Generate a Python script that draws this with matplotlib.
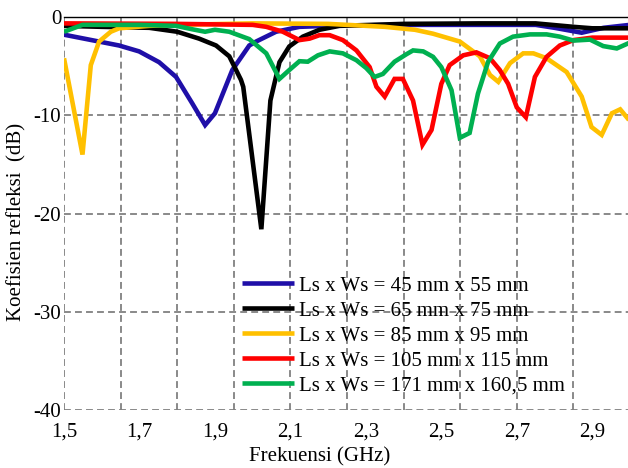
import matplotlib
matplotlib.use("Agg")
import matplotlib.pyplot as plt
from matplotlib.ticker import FixedLocator, FuncFormatter

# ---- data (frequency GHz, reflection coefficient dB) ----
labels = ["Ls x Ws = 45 mm x 55 mm", "Ls x Ws = 65 mm x 75 mm",
          "Ls x Ws = 85 mm x 95 mm", "Ls x Ws = 105 mm x 115 mm",
          "Ls x Ws = 171 mm x 160,5 mm"]
colors = ["#1F0FA8", "#000000", "#FFC000", "#FF0000", "#00B050"]

f_blue = [1.50, 1.646, 1.699, 1.752, 1.797, 1.84, 1.874, 1.90, 1.946, 1.991,
          2.009, 2.062, 2.124, 2.20, 2.40, 2.60, 2.75, 2.80, 2.872, 2.93, 3.00]
s_blue = [-1.8, -2.9, -3.5, -4.6, -6.1, -8.8, -11.0, -9.8, -5.4, -2.9,
          -2.5, -1.5, -1.0, -0.9, -0.8, -0.8, -0.8, -1.1, -1.6, -1.1, -0.8]

f_black = [1.50, 1.60, 1.726, 1.80, 1.858, 1.903, 1.938, 1.969, 1.975, 2.023,
           2.047, 2.071, 2.097, 2.133, 2.177, 2.23, 2.40, 2.60, 2.75, 2.85, 2.90, 3.00]
s_black = [-0.9, -1.0, -1.1, -1.5, -2.2, -2.9, -4.0, -6.4, -7.1, -21.6,
           -8.5, -4.6, -3.0, -2.0, -1.3, -0.9, -0.7, -0.65, -0.65, -1.0, -1.15, -1.15]

f_yellow = [1.50, 1.549, 1.571, 1.593, 1.624, 1.646, 1.726, 1.80, 2.00, 2.20,
            2.35, 2.43, 2.478, 2.549, 2.602, 2.629, 2.651, 2.682, 2.717, 2.744,
            2.779, 2.832, 2.872, 2.898, 2.925, 2.952, 2.974, 3.00]
s_yellow = [-4.2, -14.0, -4.9, -2.5, -1.5, -1.15, -0.9, -0.8, -0.65, -0.7,
            -1.0, -1.3, -1.7, -2.5, -4.0, -5.9, -6.6, -4.7, -3.7, -3.7,
            -4.2, -5.6, -8.1, -11.2, -12.0, -9.8, -9.4, -10.6]

f_red = [1.50, 1.80, 2.00, 2.036, 2.08, 2.124, 2.151, 2.177, 2.204, 2.239,
         2.275, 2.31, 2.328, 2.35, 2.376, 2.398, 2.425, 2.45, 2.474, 2.50,
         2.522, 2.558, 2.593, 2.629, 2.655, 2.677, 2.70, 2.724, 2.748, 2.779,
         2.814, 2.85, 2.90, 3.00]
s_red = [-0.65, -0.7, -0.8, -1.0, -1.5, -2.35, -2.2, -1.85, -1.85, -2.35,
         -3.4, -5.1, -7.1, -8.1, -6.3, -6.3, -8.5, -13.0, -11.5, -6.8,
         -4.9, -3.9, -3.6, -4.2, -5.4, -6.8, -9.2, -10.2, -6.1, -4.05,
         -2.9, -2.35, -2.1, -2.1]

f_green = [1.50, 1.549, 1.70, 1.797, 1.84, 1.874, 1.90, 1.938, 1.991, 2.036,
           2.071, 2.097, 2.124, 2.146, 2.173, 2.204, 2.239, 2.275, 2.301, 2.323,
           2.345, 2.376, 2.407, 2.425, 2.452, 2.478, 2.50, 2.527, 2.549, 2.575,
           2.597, 2.624, 2.655, 2.69, 2.735, 2.779, 2.814, 2.85, 2.894, 2.929,
           2.965, 3.00]
s_green = [-1.5, -0.8, -0.8, -0.9, -1.25, -1.5, -1.3, -1.5, -2.25, -3.7,
           -6.3, -5.4, -4.5, -4.55, -3.9, -3.5, -3.7, -4.4, -5.2, -6.1,
           -5.8, -4.55, -3.8, -3.4, -3.5, -4.05, -5.1, -7.45, -12.3, -11.8,
           -7.8, -4.55, -2.7, -2.0, -1.77, -1.77, -2.0, -2.4, -2.3, -2.96,
           -3.2, -2.6]

xtick_vals = [1.5, 1.7, 1.9, 2.1, 2.3, 2.5, 2.7, 2.9]
xgrid_vals = [1.5, 1.65, 1.8, 1.95, 2.1, 2.25, 2.4, 2.55, 2.7, 2.85, 3.0]
ytick_vals = [0, -10, -20, -30, -40]

# ---- figure ----
plt.rcParams['font.family'] = ['Liberation Serif', 'DejaVu Serif']
W, H = 628, 468
fig = plt.figure(figsize=(W / 100, H / 100), dpi=100)
left, right, top, bottom = 64, 630, 17, 410
ax = fig.add_axes([left / W, 1 - bottom / H, (right - left) / W, (bottom - top) / H])
ax.set_xlim(1.5, 3.0)
ax.set_ylim(-40, 0)

series = [(f_blue, s_blue), (f_black, s_black), (f_yellow, s_yellow),
          (f_red, s_red), (f_green, s_green)]
for (fx, sy), c, lab in zip(series, colors, labels):
    ax.plot(fx, sy, color=c, lw=3.3, label=lab, solid_joinstyle='miter',
            solid_capstyle='butt', zorder=3)

grid_kw = dict(color='#808080', lw=1.3, linestyle=(0, (3.8, 2.3)), zorder=1)
for gx in xgrid_vals:
    ax.axvline(gx, **grid_kw)
for gy in ytick_vals[1:]:
    ax.axhline(gy, **grid_kw)

for s in ['left', 'right', 'bottom']:
    ax.spines[s].set_visible(False)
ax.spines['top'].set_color('black')
ax.spines['top'].set_linewidth(1.0)
ax.spines['top'].set_zorder(4)

ax.xaxis.set_major_locator(FixedLocator(xtick_vals))
ax.xaxis.set_major_formatter(FuncFormatter(lambda v, p: f"{v:.1f}".replace('.', ',')))
ax.yaxis.set_major_locator(FixedLocator(ytick_vals))
ax.yaxis.set_major_formatter(FuncFormatter(lambda v, p: f"{int(round(v))}" if v != 0 else "0"))
ax.tick_params(axis='x', length=0, pad=9, labelsize=15)
ax.tick_params(axis='y', length=0, pad=2, labelsize=15)

fig.text(17 / W, 1 - 222 / H, "Koefisien refleksi  (dB)", rotation=90,
         ha='center', va='center', fontsize=15)
fig.text(320 / W, 1 - 457 / H, "Frekuensi (GHz)", ha='center', va='center', fontsize=15)

leg = ax.legend(loc='upper left', bbox_to_anchor=(242 / W, 1 - 276 / H),
                bbox_transform=fig.transFigure, frameon=False, fontsize=15,
                handlelength=2.5, handletextpad=0.25, labelspacing=0.26,
                borderpad=0, borderaxespad=0)
for h in leg.get_lines():
    h.set_linewidth(3.3)

fig.savefig("out.png", dpi=100)
